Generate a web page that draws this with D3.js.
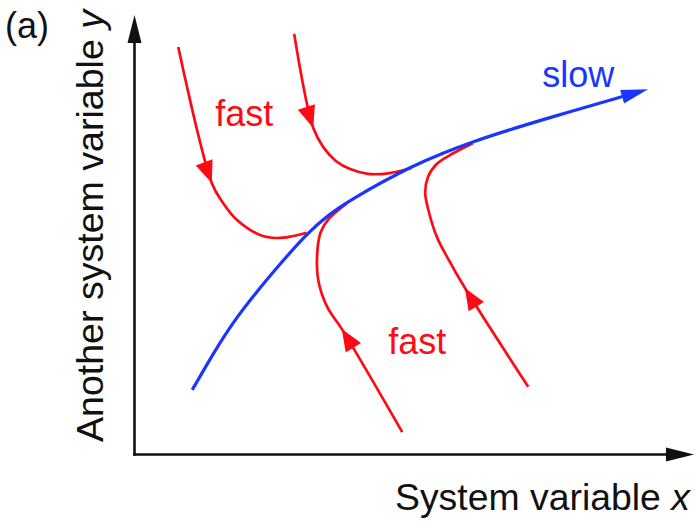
<!DOCTYPE html>
<html>
<head>
<meta charset="utf-8">
<script src="https://cdn.jsdelivr.net/npm/d3@7"></script>
<style>
  body { margin: 0; background: #fff; }
  text { font-family: "Liberation Sans", Arial, Helvetica, sans-serif; }
</style>
</head>
<body>
<div id="chart"></div>
<script>
const w = 695,
      h = 521;

// curves in data units (0..100 on both axes)
const slowManifold = [[10.4,14.6],[14.1,22.8],[17.7,30.1],[22.0,37.1],[26.1,43.3],
                      [30.9,50.3],[35.0,54.7],[38.0,57.4],[49.6,65.8],[60.5,71.3],
                      [73.8,76.5],[91.8,83.1]];

const fastPath1 = [[7.9,92.7],[13.9,61.7],[15.9,57.2],[18.4,53.3],[22.5,49.9],
                   [25.5,49.2],[28.2,49.6],[30.8,50.4]];
const fastPath2 = [[28.6,95.7],[32.0,74.3],[33.8,69.9],[36.1,66.7],[38.6,64.9],
                   [41.8,63.8],[45.7,64.0],[49.6,65.2]];
const fastPath3 = [[47.9,5.0],[37.1,28.5],[34.5,33.5],[32.9,39.6],[32.7,45.3],
                   [33.3,50.4],[34.8,53.6],[38.0,57.1]];
const fastPath4 = [[70.4,15.3],[59.1,37.8],[55.9,44.9],[54.1,49.4],[52.7,54.9],
                   [52.0,59.5],[52.5,63.1],[54.1,66.1],[57.0,68.5],[60.5,70.8]];

const fastPaths = [fastPath1, fastPath2, fastPath3, fastPath4];
const arrowTips = [[13.9,61.7],[32.0,74.3],[37.1,28.5],[59.1,37.8]];

const xLabel = "System variable ";
const yLabel = "Another system variable ";

const red = "#ff0a14",
      blue = "#1a35ff";

const svg = d3.select("#chart")
  .append("svg")
  .attr("width", w)
  .attr("height", h);

const xScale = d3.scaleLinear().domain([0, 100]).range([134, 694]);
const yScale = d3.scaleLinear().domain([0, 100]).range([454, 15]);

// triangle with its point at (x,y), pointing along (dx,dy)
function arrowHead(x, y, dx, dy, len, hw, color) {
  const n = Math.hypot(dx, dy);
  const ux = dx / n, uy = dy / n;
  const bx = x - ux * len, by = y - uy * len;
  const pts = [[x, y], [bx - uy * hw, by + ux * hw], [bx + uy * hw, by - ux * hw]];
  svg.append("polygon")
    .attr("points", pts.map(p => p.join(",")).join(" "))
    .attr("fill", color);
}

// axes, no ticks, with arrow ends
const xAxisGroup = svg.append("g")
  .attr("transform", "translate(0," + yScale(0) + ")")
  .call(d3.axisBottom(xScale.copy().range([134, 680])).tickValues([]).tickSizeOuter(0));

const yAxisGroup = svg.append("g")
  .attr("transform", "translate(" + xScale(0) + ",0)")
  .call(d3.axisLeft(yScale.copy().range([454, 30])).tickValues([]).tickSizeOuter(0));

svg.selectAll(".domain")
  .attr("stroke", "#111")
  .attr("stroke-width", 2.6)
  .attr("stroke-linecap", "square");

arrowHead(xScale(100), yScale(0) + 0.5, 1, 0, 28, 7, "#111");
arrowHead(xScale(0) + 0.5, yScale(100), 0, -1, 28, 7, "#111");

const line = d3.line()
  .x(d => xScale(d[0]))
  .y(d => yScale(d[1]))
  .curve(d3.curveCatmullRom.alpha(0.5));

const smoothLine = d3.line()
  .x(d => xScale(d[0]))
  .y(d => yScale(d[1]))
  .curve(d3.curveBasis);

// fast trajectories
fastPaths.forEach((pts, i) => {
  const p = svg.append("path")
    .attr("d", line(pts))
    .attr("fill", "none")
    .attr("stroke", red)
    .attr("stroke-width", 2.7);

  const node = p.node();
  const total = node.getTotalLength();
  const tx = xScale(arrowTips[i][0]), ty = yScale(arrowTips[i][1]);
  let best = 0, bestD = Infinity;
  for (let l = 0; l <= total; l += 0.5) {
    const q = node.getPointAtLength(l);
    const dd = (q.x - tx) ** 2 + (q.y - ty) ** 2;
    if (dd < bestD) { bestD = dd; best = l; }
  }
  const a = node.getPointAtLength(Math.max(0, best - 3));
  const b = node.getPointAtLength(best);
  arrowHead(b.x, b.y, b.x - a.x, b.y - a.y, 22, 9, red);
});

// slow manifold
const slow = svg.append("path")
  .attr("d", smoothLine(slowManifold))
  .attr("fill", "none")
  .attr("stroke", blue)
  .attr("stroke-width", 3.2);

const sNode = slow.node();
const sLen = sNode.getTotalLength();
slow.attr("stroke-dasharray", (sLen - 10) + " " + sLen);
const sEnd = sNode.getPointAtLength(sLen);
const sPrev = sNode.getPointAtLength(sLen - 4);
arrowHead(sEnd.x, sEnd.y, sEnd.x - sPrev.x, sEnd.y - sPrev.y, 27, 7, blue);

// annotations
svg.append("text")
  .attr("x", xScale(14.5))
  .attr("y", yScale(74.7))
  .attr("fill", red)
  .style("font-size", "36px")
  .text("fast");

svg.append("text")
  .attr("x", xScale(45.4))
  .attr("y", yScale(22.8))
  .attr("fill", red)
  .style("font-size", "36px")
  .text("fast");

svg.append("text")
  .attr("x", xScale(72.9))
  .attr("y", yScale(83.6))
  .attr("fill", blue)
  .style("font-size", "36px")
  .text("slow");

svg.append("text")
  .attr("x", 5)
  .attr("y", 38)
  .attr("fill", "#111")
  .style("font-size", "36px")
  .text("(a)");

const xl = svg.append("text")
  .attr("x", 395)
  .attr("y", 510)
  .attr("fill", "#111")
  .style("font-size", "36px")
  .attr("textLength", 295)
  .attr("lengthAdjust", "spacingAndGlyphs");
xl.append("tspan").text(xLabel);
xl.append("tspan").style("font-style", "italic").text("x");

const yl = svg.append("text")
  .attr("transform", "translate(103,226) rotate(-90)")
  .attr("text-anchor", "middle")
  .attr("fill", "#111")
  .style("font-size", "36px")
  .attr("textLength", 432)
  .attr("lengthAdjust", "spacingAndGlyphs");
yl.append("tspan").text(yLabel);
yl.append("tspan").style("font-style", "italic").text("y");
</script>
</body>
</html>
